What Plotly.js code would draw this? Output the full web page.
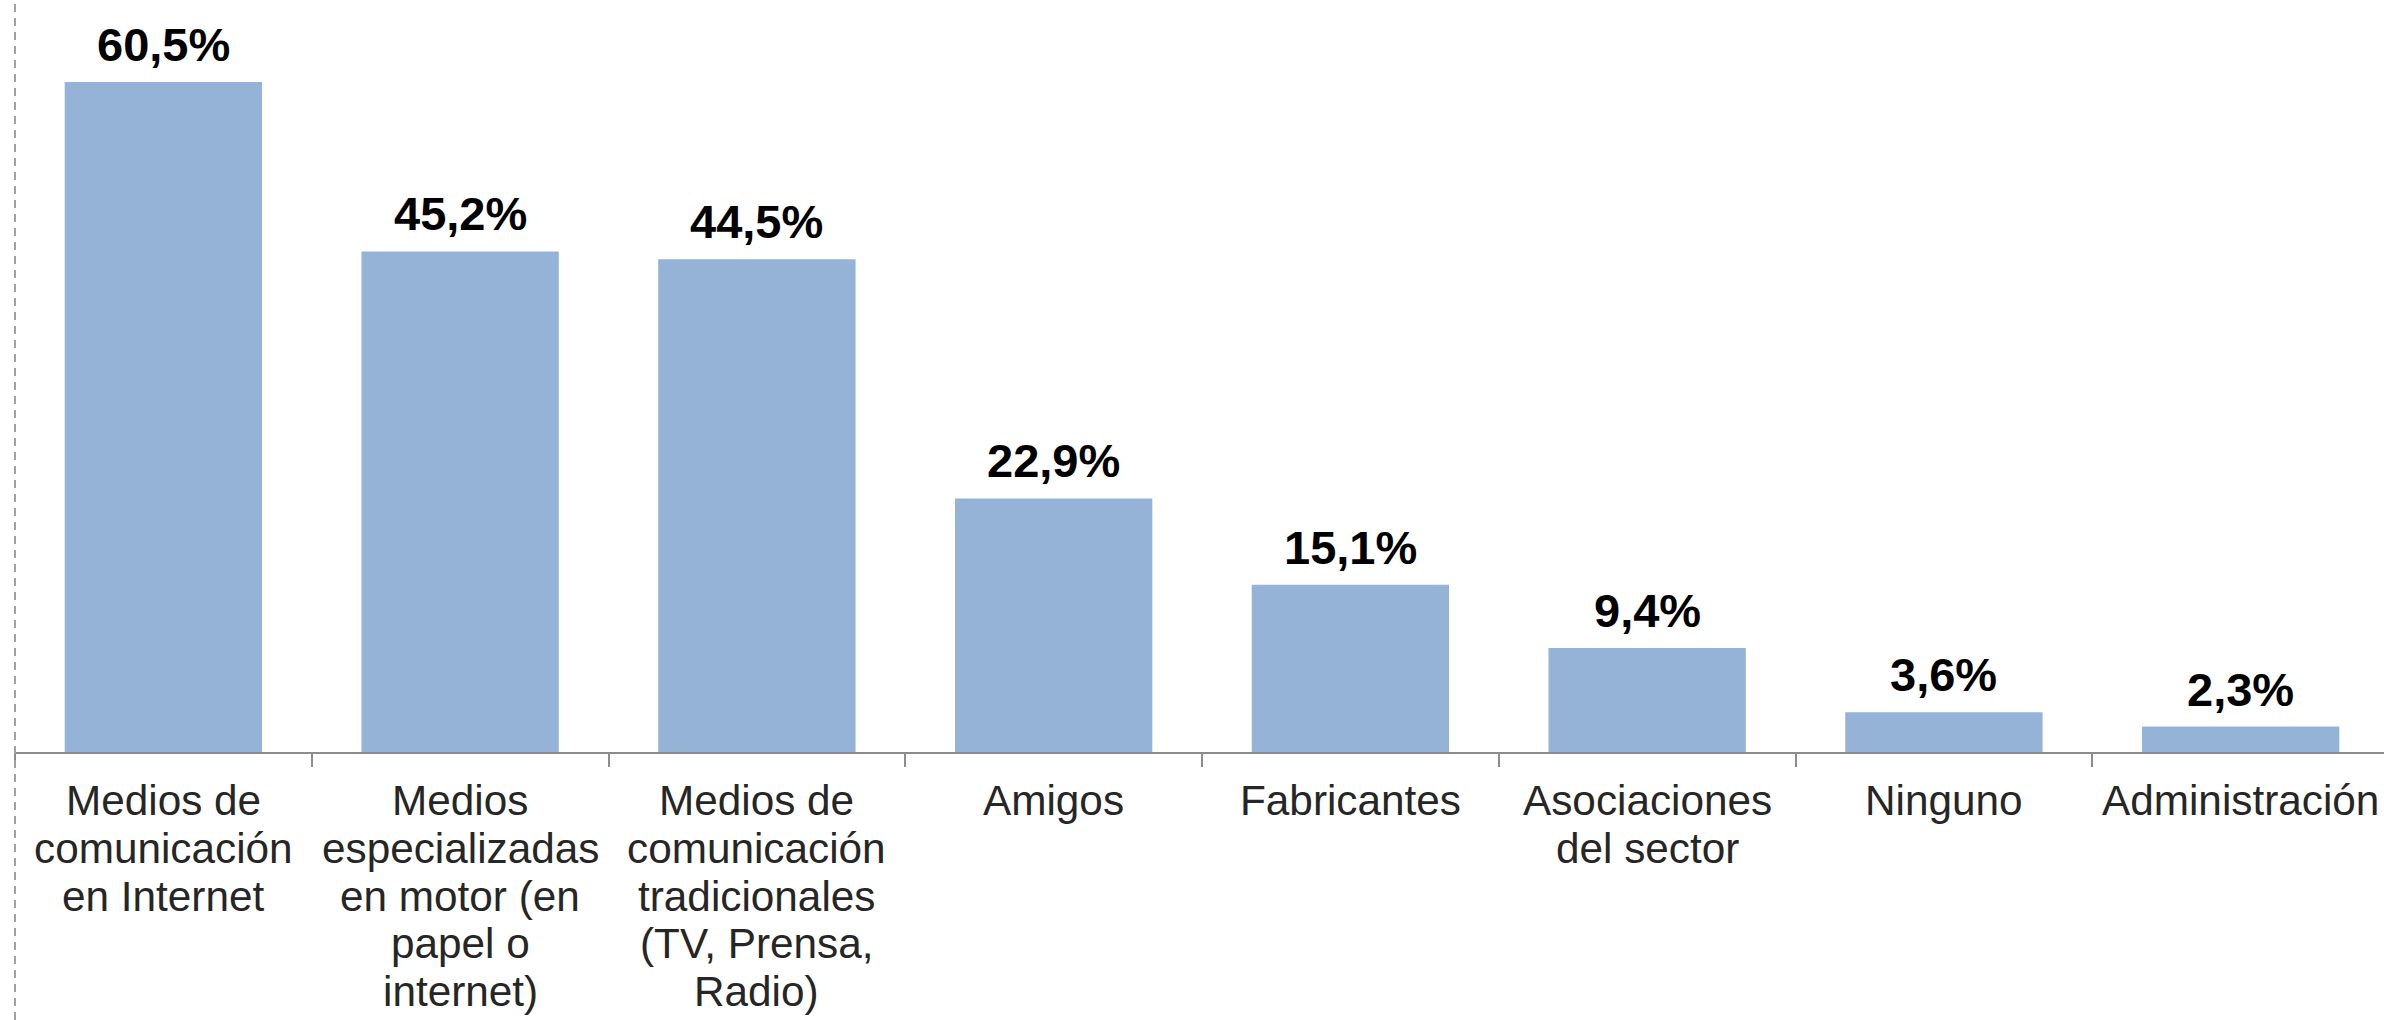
<!DOCTYPE html>
<html>
<head>
<meta charset="utf-8">
<script src="https://cdn.plot.ly/plotly-3.0.1.min.js"></script>
<style>
  html, body { margin: 0; padding: 0; background: #ffffff; }
  #chart { width: 2384px; height: 1020px; }
</style>
</head>
<body>
<div id="chart"></div>
<script>
// ---- data ----
const categoryLines = [
  ["Medios de", "comunicación", "en Internet"],
  ["Medios", "especializadas", "en motor (en", "papel o", "internet)"],
  ["Medios de", "comunicación", "tradicionales", "(TV, Prensa,", "Radio)"],
  ["Amigos"],
  ["Fabricantes"],
  ["Asociaciones", "del sector"],
  ["Ninguno"],
  ["Administración"]
];
const values = [60.5, 45.2, 44.5, 22.9, 15.1, 9.4, 3.6, 2.3];

// ---- build ----
const categories = categoryLines.map(l => l.join(" "));
const FONT = "Arial, 'Liberation Sans', sans-serif";
const LABEL_SIZE = 42.3;
const LINE_PITCH = 47.8;
const FIRST_SHIFT = 23;

const annotations = [];
categoryLines.forEach((lines, ci) => {
  lines.forEach((txt, li) => {
    annotations.push({
      x: categories[ci], y: 0, xref: "x", yref: "y",
      text: txt, showarrow: false,
      xanchor: "center", yanchor: "top",
      yshift: -(FIRST_SHIFT + li * LINE_PITCH),
      font: { family: FONT, size: LABEL_SIZE, color: "#262626" }
    });
  });
});

const fmt = v => v.toFixed(1).replace(".", ",") + "%";
values.forEach((v, i) => {
  annotations.push({
    x: categories[i], y: v, xref: "x", yref: "y",
    text: "<b>" + fmt(v) + "</b>", showarrow: false,
    xanchor: "center", yanchor: "bottom", yshift: 9,
    font: { family: FONT, size: 47, color: "#000000" }
  });
});

const trace = {
  type: "bar",
  x: categories,
  y: values,
  marker: { color: "#95b3d7", line: { width: 0 } },
  hoverinfo: "none"
};

const layout = {
  width: 2384, height: 1020,
  margin: { l: 15, r: 0, t: 0, b: 268, pad: 0 },
  paper_bgcolor: "#ffffff", plot_bgcolor: "#ffffff",
  bargap: 0.335,
  showlegend: false,
  xaxis: {
    type: "category",
    range: [-0.5, 7.483],
    showticklabels: false,
    tickson: "boundaries",
    ticks: "outside", ticklen: 13, tickwidth: 2, tickcolor: "#8c8c8c",
    showline: true, linecolor: "#8c8c8c", linewidth: 2,
    showgrid: false, zeroline: false, fixedrange: true
  },
  yaxis: {
    range: [0, 67.9],
    showticklabels: false, showgrid: false, zeroline: false,
    showline: false, ticks: "", fixedrange: true
  },
  shapes: [{
    type: "line", xref: "paper", yref: "paper",
    x0: 0, x1: 0, y0: -268 / 752, y1: 1,
    line: { color: "#a0a0a0", width: 2, dash: "8px,6px" }
  }],
  annotations: annotations
};

Plotly.newPlot("chart", [trace], layout, { displayModeBar: false, staticPlot: true });
</script>
</body>
</html>
